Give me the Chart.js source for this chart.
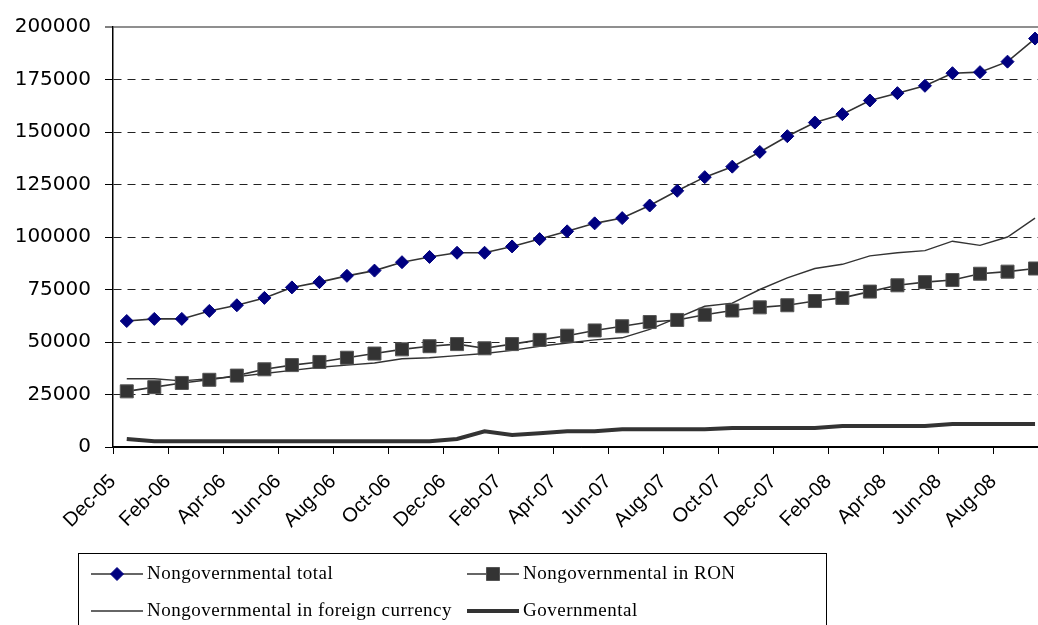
<!DOCTYPE html>
<html>
<head>
<meta charset="utf-8">
<script src="https://cdn.jsdelivr.net/npm/chart.js@4/dist/chart.umd.min.js"></script>
<style>
  html, body { margin: 0; padding: 0; background: #fff; overflow: hidden; }
  #wrap { width: 1059px; height: 625px; }
</style>
</head>
<body>
<div id="wrap"><canvas id="c" width="1059" height="625"></canvas></div>
<script>
// Monthly categories
const months = [
  'Dec-05','Jan-06','Feb-06','Mar-06','Apr-06','May-06','Jun-06','Jul-06','Aug-06','Sep-06','Oct-06','Nov-06',
  'Dec-06','Jan-07','Feb-07','Mar-07','Apr-07','May-07','Jun-07','Jul-07','Aug-07','Sep-07','Oct-07','Nov-07',
  'Dec-07','Jan-08','Feb-08','Mar-08','Apr-08','May-08','Jun-08','Jul-08','Aug-08','Sep-08'
];

// Series values
const nongovTotal = [
  60000, 61000, 61000, 64800, 67500, 71000, 76000, 78500, 81500, 84000, 88000, 90500,
  92500, 92500, 95500, 99000, 102700, 106500, 109000, 115000, 122000, 128500, 133500, 140500,
  148000, 154500, 158500, 165000, 168500, 172000, 178000, 178500, 183500, 194500
];
const nongovRON = [
  26500, 28500, 30500, 32000, 34000, 37000, 39000, 40500, 42500, 44500, 46500, 48000,
  49000, 47000, 49000, 51000, 53000, 55500, 57500, 59500, 60500, 63000, 65000, 66500,
  67500, 69500, 71000, 74000, 77000, 78500, 79500, 82500, 83500, 85000
];
const nongovForeign = [
  32500, 32500, 31500, 32500, 33500, 35000, 36500, 38000, 39000, 40000, 42000, 42500,
  43500, 44500, 46000, 48000, 49500, 51000, 52000, 56000, 61500, 67000, 68500, 75000,
  80500, 85000, 87000, 91000, 92500, 93500, 98000, 96000, 100000, 109000
];
const governmental = [
  3800, 2700, 2700, 2700, 2700, 2700, 2700, 2700, 2700, 2700, 2700, 2700,
  3800, 7500, 5700, 6500, 7500, 7500, 8400, 8400, 8400, 8400, 9000, 9000,
  9000, 9000, 10000, 10000, 10000, 10000, 11000, 11000, 11000, 11000
];

// Value axis range
const yMin = 0;
const yMax = 200000;
const yStep = 25000;

const seriesNames = [
  'Nongovernmental total',
  'Nongovernmental in RON',
  'Nongovernmental in foreign currency',
  'Governmental'
];

// Boxed two-column legend below the axis
const boxLegend = {
  id: 'boxLegend',
  afterDraw(chart) {
    const ctx = chart.ctx;
    ctx.save();
    ctx.strokeStyle = '#000';
    ctx.lineWidth = 1;
    ctx.strokeRect(78.5, 553.5, 748, 100);

    const slots = [
      { x: 91, y: 574, tx: 147, ty: 579 },
      { x: 467, y: 574, tx: 523, ty: 579 },
      { x: 91, y: 611, tx: 147, ty: 616 },
      { x: 467, y: 611, tx: 523, ty: 616 }
    ];
    chart.data.datasets.forEach((d, i) => {
      const s = slots[i];
      ctx.strokeStyle = d.borderColor;
      ctx.lineWidth = d.borderWidth;
      ctx.lineCap = 'butt';
      ctx.beginPath();
      ctx.moveTo(s.x, s.y);
      ctx.lineTo(s.x + 52, s.y);
      ctx.stroke();
      if (d.pointRadius > 0) {
        ctx.fillStyle = d.pointBackgroundColor;
        ctx.strokeStyle = d.pointBorderColor;
        ctx.lineWidth = d.pointBorderWidth;
        Chart.helpers.drawPoint(ctx, {
          pointStyle: d.pointStyle, radius: d.pointRadius,
          borderWidth: d.pointBorderWidth, rotation: 0
        }, s.x + 26, s.y);
      }
      ctx.fillStyle = '#000';
      ctx.font = '19px "Liberation Serif"';
      if ('letterSpacing' in ctx) ctx.letterSpacing = '0.5px';
      ctx.textBaseline = 'alphabetic';
      ctx.textAlign = 'left';
      ctx.fillText(d.label, s.tx, s.ty);
    });
    ctx.restore();
  }
};

const gridDash = (c) => {
  if (!c.tick) return [];
  const v = c.tick.value;
  return (v > yMin && v < yMax) ? [8, 6] : [];
};

new Chart(document.getElementById('c'), {
  type: 'line',
  data: {
    labels: months,
    datasets: [
      {
        label: seriesNames[0], data: nongovTotal,
        borderColor: '#333333', borderWidth: 1.6, tension: 0,
        pointStyle: 'rectRot', pointRadius: 6.5,
        pointBackgroundColor: '#000080', pointBorderColor: '#000080', pointBorderWidth: 1
      },
      {
        label: seriesNames[1], data: nongovRON,
        borderColor: '#333333', borderWidth: 1.6, tension: 0,
        pointStyle: 'rect', pointRadius: 9.2,
        pointBackgroundColor: '#333333', pointBorderColor: '#555555', pointBorderWidth: 1
      },
      {
        label: seriesNames[2], data: nongovForeign,
        borderColor: '#333333', borderWidth: 1.4, tension: 0,
        pointRadius: 0, pointBackgroundColor: '#333333', pointBorderColor: '#333333', pointBorderWidth: 0
      },
      {
        label: seriesNames[3], data: governmental,
        borderColor: '#333333', borderWidth: 4, tension: 0,
        pointRadius: 0, pointBackgroundColor: '#333333', pointBorderColor: '#333333', pointBorderWidth: 0
      }
    ]
  },
  options: {
    responsive: false,
    animation: false,
    events: [],
    layout: { padding: { top: 27, left: 0, right: 1, bottom: 83 } },
    plugins: {
      legend: { display: false },
      tooltip: { enabled: false }
    },
    scales: {
      x: {
        offset: true,
        afterFit(s) { s.height = 95; s.paddingLeft = 0; s.paddingRight = 0; },
        grid: {
          offset: true,
          drawOnChartArea: false,
          tickLength: 7,
          tickWidth: 1,
          tickColor: (c) => (c.index % 2 === 0 ? '#000' : 'rgba(0,0,0,0)')
        },
        border: { display: true, color: '#000', width: 1.5 },
        ticks: {
          autoSkip: false,
          maxRotation: 45,
          minRotation: 45,
          padding: 16,
          labelOffset: -14,
          color: '#000',
          font: { family: '"Liberation Sans", Arial, sans-serif', size: 20 },
          callback: (v, i) => (i % 2 === 0 ? months[i] : '')
        }
      },
      y: {
        min: yMin,
        max: yMax,
        afterFit(s) { s.width = 113; },
        grid: {
          color: (c) => (c.tick && c.tick.value === yMax ? '#8f8f8f' : (c.tick && c.tick.value === yMin ? '#000' : '#222')),
          lineWidth: (c) => (c.tick && c.tick.value === yMax ? 2 : 1),
          tickLength: 8,
          tickWidth: 1,
          tickColor: '#000'
        },
        border: { display: true, color: '#000', width: 1.5, dash: gridDash },
        ticks: {
          stepSize: yStep,
          padding: 14,
          color: '#000',
          font: { family: '"DejaVu Sans", sans-serif', size: 20 },
          callback: (v) => String(v)
        }
      }
    }
  },
  plugins: [boxLegend]
});
</script>
</body>
</html>
